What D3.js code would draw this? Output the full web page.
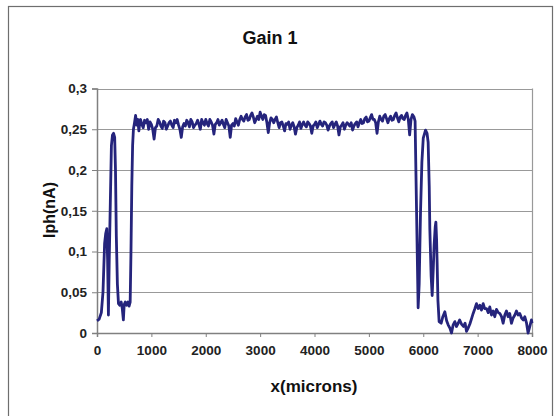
<!DOCTYPE html>
<html><head><meta charset="utf-8">
<script src="https://cdn.jsdelivr.net/npm/d3@7"></script>
<style>body{margin:0;background:#fff}svg{display:block}text{font-family:Arial,"Liberation Sans",sans-serif}</style>
</head><body><svg id="c" width="558" height="416"></svg>
<script>
const title = "Gain 1";
const xLabel = "x(microns)";
const yLabel = "Iph(nA)";
const xTicks = [0,1000,2000,3000,4000,5000,6000,7000,8000];
const yTicks = [0,0.05,0.1,0.15,0.2,0.25,0.3];
const yTickLabels = ["0","0,05","0,1","0,15","0,2","0,25","0,3"];
// measured profile: [x (microns), Iph (nA)]
const profile = [
[0,0.015],[40,0.017],[80,0.025],[110,0.05],[140,0.11],[160,0.122],[180,0.128],[195,0.09],[210,0.022],[225,0.09],[245,0.16],[265,0.23],[285,0.243],[305,0.245],[325,0.24],[340,0.2],[355,0.12],[375,0.06],[395,0.036],[420,0.034],[445,0.038],[465,0.03],[485,0.016],[500,0.035],[520,0.038],[545,0.034],[570,0.038],[590,0.033],[610,0.038],[625,0.1],[640,0.18],[655,0.23],[670,0.25],[690,0.258],[710,0.267],[730,0.255],[750,0.262],[770,0.248],[790,0.26],
[800,0.262],[825,0.256],[850,0.252],[875,0.261],[900,0.258],[925,0.262],[950,0.250],[975,0.259],[1000,0.256],[1025,0.250],[1050,0.238],[1075,0.252],[1100,0.254],[1125,0.262],[1150,0.259],[1175,0.254],[1200,0.251],[1225,0.260],[1250,0.258],[1275,0.250],[1300,0.254],[1325,0.258],[1350,0.260],[1375,0.255],[1400,0.252],[1425,0.261],[1450,0.258],[1475,0.262],[1500,0.255],[1525,0.250],[1550,0.240],[1575,0.253],[1600,0.257],[1625,0.254],[1650,0.261],[1675,0.258],[1700,0.253],[1725,0.262],[1750,0.259],[1775,0.252],[1800,0.255],[1825,0.257],[1850,0.261],[1875,0.256],[1900,0.250],[1925,0.262],[1950,0.258],[1975,0.255],[2000,0.262],[2025,0.257],[2050,0.254],[2075,0.262],[2100,0.259],[2125,0.255],[2150,0.244],[2175,0.256],[2200,0.258],[2225,0.262],[2250,0.255],[2275,0.258],[2300,0.261],[2325,0.256],[2350,0.252],[2375,0.262],[2400,0.258],[2425,0.254],[2450,0.240],[2475,0.255],[2500,0.257],[2525,0.254],[2550,0.263],[2575,0.259],[2600,0.255],[2625,0.262],[2650,0.266],[2675,0.262],[2700,0.260],[2725,0.265],[2750,0.268],[2775,0.261],[2800,0.262],[2825,0.267],[2850,0.270],[2875,0.265],[2900,0.258],[2925,0.262],[2950,0.266],[2975,0.262],[3000,0.271],[3025,0.266],[3050,0.262],[3075,0.268],[3100,0.267],[3125,0.258],[3150,0.246],[3175,0.258],[3200,0.264],[3225,0.262],[3250,0.258],[3275,0.262],[3300,0.265],[3325,0.258],[3350,0.252],[3375,0.258],[3400,0.259],[3425,0.254],[3450,0.248],[3475,0.257],[3500,0.256],[3525,0.259],[3550,0.250],[3575,0.255],[3600,0.258],[3625,0.253],[3650,0.244],[3675,0.252],[3700,0.255],[3725,0.259],[3750,0.251],[3775,0.256],[3800,0.259],[3825,0.255],[3850,0.253],[3875,0.259],[3900,0.257],[3925,0.254],[3950,0.245],[3975,0.254],[4000,0.256],[4025,0.259],[4050,0.252],[4075,0.256],[4100,0.260],[4125,0.256],[4150,0.254],[4175,0.259],[4200,0.258],[4225,0.255],[4250,0.249],[4275,0.254],[4300,0.257],[4325,0.259],[4350,0.252],[4375,0.256],[4400,0.259],[4425,0.254],[4450,0.243],[4475,0.253],[4500,0.255],[4525,0.258],[4550,0.250],[4575,0.255],[4600,0.258],[4625,0.256],[4650,0.254],[4675,0.258],[4700,0.249],[4725,0.254],[4750,0.257],[4775,0.259],[4800,0.253],[4825,0.258],[4850,0.262],[4875,0.257],[4900,0.258],[4925,0.263],[4950,0.265],[4975,0.259],[5000,0.260],[5025,0.264],[5050,0.268],[5075,0.262],[5100,0.262],[5125,0.258],[5150,0.245],[5175,0.259],[5200,0.266],[5225,0.262],[5250,0.260],[5275,0.266],[5300,0.268],[5325,0.263],[5350,0.258],[5375,0.263],[5400,0.266],[5425,0.261],[5450,0.262],[5475,0.267],[5500,0.270],[5525,0.264],[5550,0.259],[5575,0.265],[5600,0.267],[5625,0.263],[5650,0.262],[5675,0.267],[5700,0.270],[5725,0.262],[5750,0.243],[5775,0.262],[5800,0.268],[5830,0.265],[5850,0.260],
[5877,0.149],[5906,0.031],[5925,0.06],[5950,0.149],[5975,0.21],[6000,0.239],[6042,0.249],[6070,0.245],[6090,0.234],[6110,0.18],[6121,0.128],[6145,0.07],[6164,0.046],[6185,0.08],[6200,0.108],[6220,0.13],[6232,0.136],[6245,0.115],[6255,0.087],[6270,0.04],[6292,0.014],[6330,0.012],[6360,0.02],[6397,0.026],[6430,0.015],[6458,0.01],[6490,0.006],[6520,0.0],[6550,0.01],[6581,0.014],[6610,0.008],[6642,0.012],[6670,0.016],[6703,0.011],[6740,0.008],[6770,0.012],[6795,0.002],[6825,0.006],[6857,0.011],[6890,0.018],[6918,0.024],[6950,0.03],[6979,0.036],[7010,0.03],[7040,0.034],[7070,0.028],[7102,0.036],[7130,0.03],[7163,0.03],[7195,0.025],[7224,0.032],[7255,0.022],[7286,0.027],[7315,0.02],[7347,0.029],[7380,0.025],[7408,0.024],[7440,0.02],[7469,0.012],[7500,0.022],[7530,0.027],[7560,0.02],[7590,0.024],[7622,0.012],[7650,0.018],[7685,0.022],[7714,0.027],[7745,0.022],[7775,0.024],[7810,0.018],[7840,0.016],[7867,0.02],[7900,0.012],[7928,0.0],[7960,0.008],[7990,0.016],[8000,0.012]
];

const svg = d3.select("#c");
const L = 97, R = 532, T = 88.5, B = 333;
const x = d3.scaleLinear().domain([0,8000]).range([L,R]);
const y = d3.scaleLinear().domain([0,0.3]).range([B,T]);

// outer frame
svg.append("rect").attr("x",8.5).attr("y",6.5).attr("width",544).attr("height",430)
  .attr("fill","#fff").attr("stroke","#6e6e6e").attr("stroke-width",1.2);

// gridlines
svg.append("g").selectAll("line").data(yTicks.slice(1)).join("line")
  .attr("x1",L).attr("x2",R).attr("y1",d=>Math.round(y(d))+0.5).attr("y2",d=>Math.round(y(d))+0.5)
  .attr("stroke","#999").attr("stroke-width",1.2);
// right border
svg.append("line").attr("x1",R+0.5).attr("x2",R+0.5).attr("y1",T).attr("y2",B).attr("stroke","#999").attr("stroke-width",1.2);

// axes
const xAxis = d3.axisBottom(x).tickValues(xTicks).tickSize(4).tickPadding(8).tickFormat(d3.format("d"));
const gx = svg.append("g").attr("transform",`translate(0,${B})`).call(xAxis);
const yAxis = d3.axisLeft(y).tickValues(yTicks).tickSize(5).tickPadding(5).tickFormat((d,i)=>yTickLabels[i]);
const gy = svg.append("g").attr("transform",`translate(${L},0)`).call(yAxis);
[gx,gy].forEach(g=>{
  g.select(".domain").attr("stroke","#808080").attr("stroke-width",1.5);
  g.selectAll(".tick line").attr("stroke","#808080");
  g.selectAll(".tick text").attr("fill","#222").style("font-size","13.5px").style("font-weight","bold");
});

// data line
svg.append("path").datum(profile)
  .attr("fill","none").attr("stroke","#25247c").attr("stroke-width",2.8).attr("stroke-linejoin","round")
  .attr("d", d3.line().x(d=>x(d[0])).y(d=>y(d[1])));

// titles
svg.append("text").attr("x",270).attr("y",44).attr("text-anchor","middle")
  .style("font-size","18px").style("font-weight","bold").attr("fill","#111").text(title);
svg.append("text").attr("x",314).attr("y",392).attr("text-anchor","middle")
  .style("font-size","17px").style("font-weight","bold").attr("fill","#111").text(xLabel);
svg.append("text").attr("transform","translate(55,210) rotate(-90)").attr("text-anchor","middle")
  .style("font-size","16px").style("font-weight","bold").attr("fill","#111").text(yLabel);
</script></body></html>
